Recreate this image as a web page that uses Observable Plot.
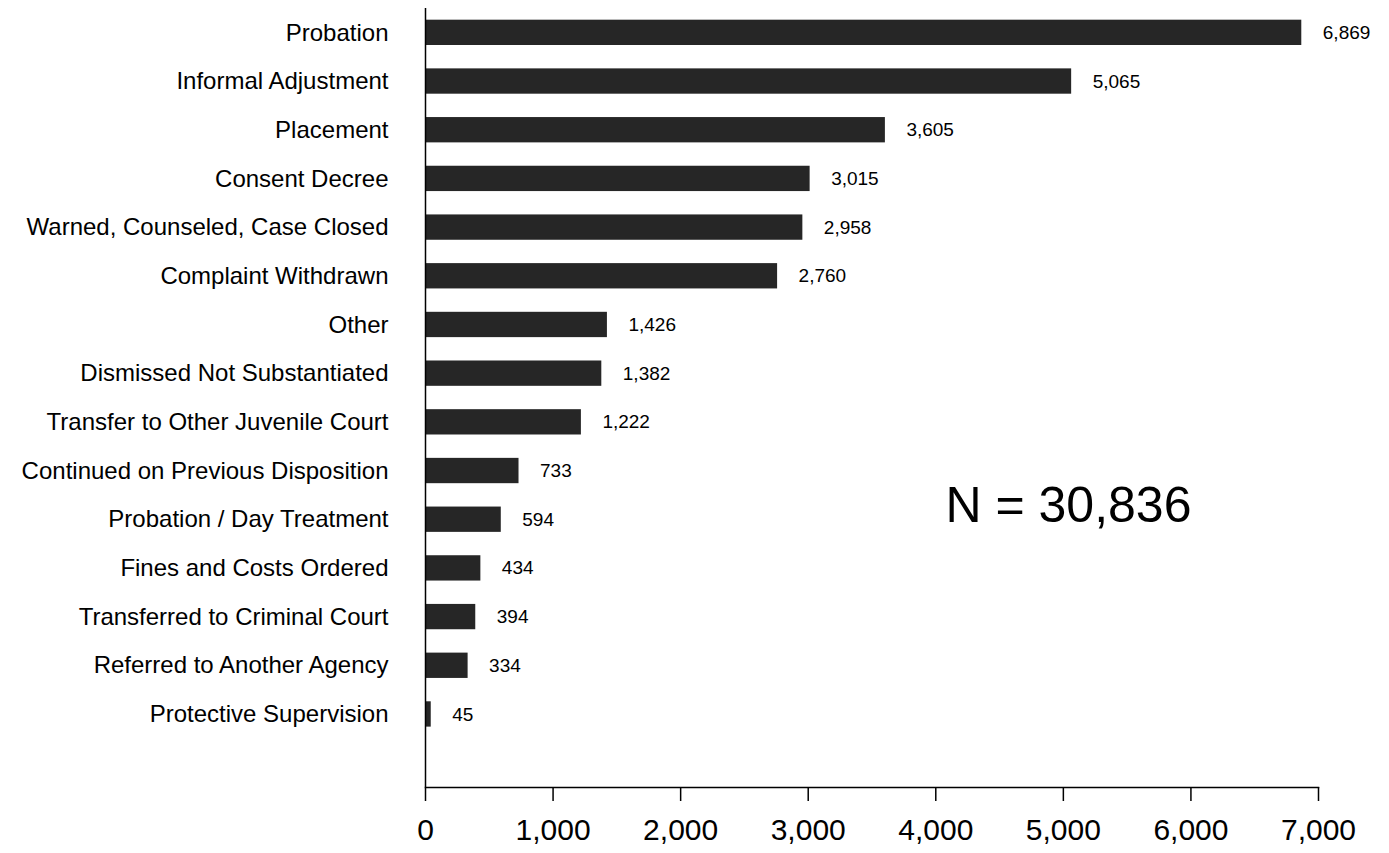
<!DOCTYPE html>
<html>
<head>
<meta charset="utf-8">
<script src="https://cdn.jsdelivr.net/npm/d3@7"></script>
<script src="https://cdn.jsdelivr.net/npm/@observablehq/plot@0.6"></script>
<style>
  html, body { margin: 0; padding: 0; background: #fff; }
</style>
</head>
<body>
<div id="chart"></div>
<script>
const categories = [
  "Probation",
  "Informal Adjustment",
  "Placement",
  "Consent Decree",
  "Warned, Counseled, Case Closed",
  "Complaint Withdrawn",
  "Other",
  "Dismissed Not Substantiated",
  "Transfer to Other Juvenile Court",
  "Continued on Previous Disposition",
  "Probation / Day Treatment",
  "Fines and Costs Ordered",
  "Transferred to Criminal Court",
  "Referred to Another Agency",
  "Protective Supervision"
];
const counts = [6869, 5065, 3605, 3015, 2958, 2760, 1426, 1382, 1222, 733, 594, 434, 394, 334, 45];
const xTicks = [0, 1000, 2000, 3000, 4000, 5000, 6000, 7000];

const data = categories.map((c, i) => ({category: c, count: counts[i]}));
const total = d3.sum(counts);
const fmt = d3.format(",");

const chart = Plot.plot({
  width: 1389,
  height: 853,
  marginLeft: 425,
  marginRight: 71,
  marginTop: 8,
  marginBottom: 66,
  style: {fontFamily: "'Liberation Sans', Arial, sans-serif", background: "#fff", color: "#000"},
  x: {domain: [0, 7000]},
  y: {domain: categories, paddingInner: 0.48, paddingOuter: 0.24, insetBottom: 48.7, round: false},
  marks: [
    Plot.barX(data, {x: "count", y: "category", fill: "#262626"}),
    Plot.text(data, {x: "count", y: "category", text: d => fmt(d.count), textAnchor: "start", dx: 21, fontSize: 19, fill: "#000"}),
    Plot.text([total], {x: () => 5040, y: () => categories[9], dy: 35, text: d => `N = ${fmt(d)}`, fontSize: 50, fill: "#000"}),
    Plot.axisX({ticks: xTicks, tickFormat: fmt, tickSize: 14, tickPadding: 17, fontSize: 30, strokeWidth: 1.5, label: null}),
    Plot.axisY({tickSize: 0, tickPadding: 37, fontSize: 24, label: null}),
    Plot.frame({anchor: "bottom", strokeWidth: 1.5}),
    Plot.ruleX([0], {strokeWidth: 1.5})
  ]
});
document.getElementById("chart").appendChild(chart);
</script>
</body>
</html>
